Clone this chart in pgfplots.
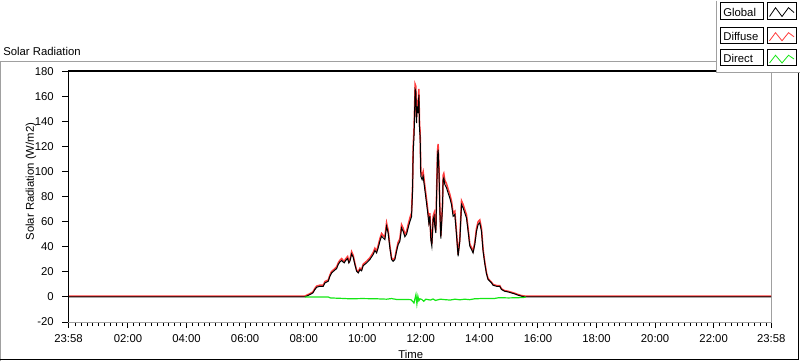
\documentclass[border=0pt]{standalone}
\usepackage{fontspec}
\setmainfont{Liberation Sans}
\usepackage{pgfplots}
\pgfplotsset{compat=1.18}
\definecolor{dred}{RGB}{255,60,60}
\definecolor{dgreen}{RGB}{20,230,20}
\definecolor{fgray}{RGB}{160,160,160}
\begin{document}
\begin{tikzpicture}
\begin{scope}[x=0.75pt,y=-0.75pt]
\path[use as bounding box] (0,0) rectangle (800,361);
\draw[fgray,line width=0.75pt] (1,361) -- (1,61.5) -- (716.7,61.5) -- (716.7,0);
\draw[fgray,line width=0.75pt] (716.7,72) -- (800,72);
\draw[black,line width=0.75pt] (0,359.5) -- (798.5,359.5) -- (798.5,72.5);
\node[anchor=base west,inner sep=0pt,font=\fontsize{8.5}{10}\selectfont] at (3,55) {Solar Radiation};
\end{scope}
\begin{axis}[
  at={(51.375pt,-241.275pt)}, anchor=south west,
  scale only axis, width=527.4pt, height=188.25pt,
  xmin=-2, xmax=1438, ymin=-20, ymax=180,
  axis line style={fgray,line width=0.75pt},
  xtick={-2,120,240,360,480,600,720,840,960,1080,1200,1320,1438},
  xticklabels={23:58,02:00,04:00,06:00,08:00,10:00,12:00,14:00,16:00,18:00,20:00,22:00,23:58},
  minor xtick={12,24,...,1428},
  ytick={-20,0,20,40,60,80,100,120,140,160,180},
  yticklabels={-20,0,20,40,60,80,100,120,140,160,180},
  tick align=outside, xtick pos=bottom, ytick pos=left,
  major tick length=4.5pt, minor tick length=3pt,
  every tick/.style={black,line width=0.75pt},
  ticklabel style={font=\fontsize{8.5}{10}\selectfont},
  yticklabel style={xshift=-3pt},
  xticklabel style={yshift=-1.5pt},
  xlabel={Time}, ylabel={Solar Radiation (W/m2)},
  label style={font=\fontsize{8.5}{10}\selectfont},
  xlabel style={at={(rel axis cs:0.487,0)}, anchor=center, yshift=-24.2pt},
  ylabel style={at={(rel axis cs:0,0.56)}, anchor=center, yshift=28.1pt},
  clip=true,
]
\addplot[dred, line width=1.15pt] table {
-2 0.7
482.6 0.7
492.8 2.6
498.9 4.0
503.0 6.8
506.5 8.6
513.3 9.4
520.0 9.3
523.5 12.2
530.3 13.5
533.8 17.6
537.2 20.3
542.6 22.1
547.5 23.9
550.7 27.0
554.2 29.3
557.7 30.6
563.0 28.2
565.9 30.3
570.0 32.2
572.6 28.1
574.7 29.6
578.2 36.0
581.5 33.0
584.9 26.8
588.4 21.4
591.7 20.0
595.2 22.9
598.6 21.8
601.9 26.1
608.9 28.4
615.6 31.2
622.4 35.4
625.9 38.8
629.4 36.6
632.6 40.8
636.1 46.4
639.6 50.6
642.9 49.0
646.3 47.6
649.8 59.0
653.1 53.2
656.6 40.6
660.1 31.0
663.3 29.6
666.8 31.1
670.3 38.0
673.6 43.7
677.1 46.4
680.5 57.6
683.8 54.8
687.3 50.1
690.8 52.2
694.0 57.5
697.5 62.8
701.0 67.0
703.1 88.8
704.3 119.5
706.3 135.8
708.4 169.5
709.8 168.0
711.2 143.6
712.5 157.0
714.5 151.2
716.0 165.8
717.4 137.6
718.6 132.0
720.0 99.6
722.7 96.8
724.8 99.8
728.2 88.7
731.7 77.8
735.0 66.8
736.4 61.3
738.5 66.8
740.5 47.6
742.6 42.1
745.2 64.2
747.3 66.9
748.7 58.6
750.8 53.1
752.2 80.7
754.2 116.4
755.5 121.9
757.5 99.8
758.9 72.3
761.0 48.4
764.5 74.9
765.7 97.0
767.1 98.4
769.2 93.0
772.7 90.2
775.9 86.0
779.4 81.9
782.9 76.4
786.2 66.8
789.7 68.3
793.1 51.7
796.4 33.8
799.9 46.2
803.4 76.6
806.7 73.7
810.1 69.6
813.6 65.4
816.9 54.5
820.4 42.1
823.8 39.3
827.1 36.6
830.6 43.5
834.1 54.5
837.4 60.0
840.8 61.4
844.3 54.5
847.6 37.9
851.1 27.7
854.5 19.4
857.8 14.6
861.3 13.2
864.8 11.8
868.1 9.9
875.0 9.1
881.8 9.0
885.3 6.4
892.0 5.0
898.8 4.5
905.7 3.7
912.5 2.9
919.2 1.9
926.2 1.1
933.0 0.7
1438 0.7
};
\addplot[black, line width=0.75pt] table {
-2 0
482.6 0
492.8 1.9
498.9 3.2
503.0 5.9
506.5 7.7
513.3 8.5
520.0 8.5
523.5 11.2
530.3 12.5
533.8 16.5
537.2 19.1
542.6 21.0
547.5 22.6
550.7 25.8
554.2 27.9
557.7 29.0
563.0 27.1
565.9 29.0
570.0 30.6
572.6 27.1
574.7 28.4
578.2 34.3
581.5 31.6
584.9 25.8
588.4 20.5
591.7 19.1
595.2 21.8
598.6 20.8
601.9 24.9
608.9 27.1
615.6 29.8
622.4 33.8
625.9 37.0
629.4 35.1
632.6 39.0
636.1 44.4
639.6 48.4
642.9 47.0
646.3 45.7
649.8 56.3
653.1 51.0
656.6 39.0
660.1 29.8
663.3 28.4
666.8 29.8
670.3 36.4
673.6 41.8
677.1 44.4
680.5 55.0
683.8 52.4
687.3 48.0
690.8 50.0
694.0 55.0
697.5 60.0
701.0 64.0
703.1 85.0
704.3 114.7
706.3 130.7
708.4 165.3
709.8 163.9
711.2 138.6
712.5 151.9
714.5 146.6
716.0 161.3
717.4 133.4
718.6 128.0
720.0 96.2
722.7 93.5
724.8 96.2
728.2 85.6
731.7 74.9
735.0 64.3
736.4 59.0
738.5 64.3
740.5 45.7
742.6 40.4
745.2 61.7
747.3 64.3
748.7 56.3
750.8 51.0
752.2 77.6
754.2 112.1
755.5 117.5
757.5 96.2
758.9 69.6
761.0 46.5
764.5 72.0
765.7 93.5
767.1 94.8
769.2 89.6
772.7 86.9
775.9 82.9
779.4 78.9
782.9 73.6
786.2 64.3
789.7 65.7
793.1 49.7
796.4 32.4
799.9 44.4
803.4 73.6
806.7 70.9
810.1 66.9
813.6 62.9
816.9 52.4
820.4 40.4
823.8 37.8
827.1 35.1
830.6 41.8
834.1 52.4
837.4 57.7
840.8 59.0
844.3 52.4
847.6 36.4
851.1 26.5
854.5 18.5
857.8 13.9
861.3 12.5
864.8 11.2
868.1 9.3
875.0 8.5
881.8 8.5
885.3 5.9
892.0 4.5
898.8 4.0
905.7 3.2
912.5 2.4
919.2 1.4
926.2 0.6
933.0 0
1438 0
};
\addplot[dgreen, line width=0.9pt] table {
482.6 0
530 0
535 -0.8
560 -1.2
575 -1.5
600 -1.3
630 -1.5
650 -1.8
660 -1.3
670 -2.0
690 -2.0
700 -2.2
703 -3.5
706 -4.8
708 -1.5
710 1.8
712 -5.5
714 0.5
716 -3.0
718 -1.5
722 -2.0
726 -3.5
730 -1.8
740 -2.5
745 -1.6
750 -2.8
760 -1.8
770 -2.2
780 -2.5
790 -1.8
800 -2.3
810 -1.8
820 -2.2
830 -1.5
850 -1.2
870 -1.3
880 -0.6
900 -0.8
930 -0.5
935 0
};
\end{axis}
\begin{scope}[x=0.75pt,y=-0.75pt]
\draw[black,line width=1.2pt] (68.5,321.7) -- (68.5,70.7) -- (771.7,70.7);
\fill[white] (717.5,0) rectangle (800,71.2);
\draw[fgray,line width=0.75pt] (716.7,0) -- (716.7,72) -- (800,72);
\foreach \yt/\yb/\lab/\col in {1.7/19/Global/black, 26.7/43.3/Diffuse/dred, 49.3/65.5/Direct/dgreen}{
  \draw[black,line width=0.75pt,fill=white] (721,\yt) rectangle (763.5,\yb);
  \draw[black,line width=0.75pt,fill=white] (767.7,\yt) rectangle (796.7,\yb);
  \node[anchor=base west,inner sep=0pt,font=\fontsize{8.5}{10}\selectfont] at (723.5,\yb-3) {\lab};
  \draw[\col,line width=0.6pt] (770,\yb-3) -- (776,\yt+5.5) -- (782.5,\yb-3) -- (789,\yt+5.5) -- (794.5,\yb-7);
}
\end{scope}
\end{tikzpicture}
\end{document}
